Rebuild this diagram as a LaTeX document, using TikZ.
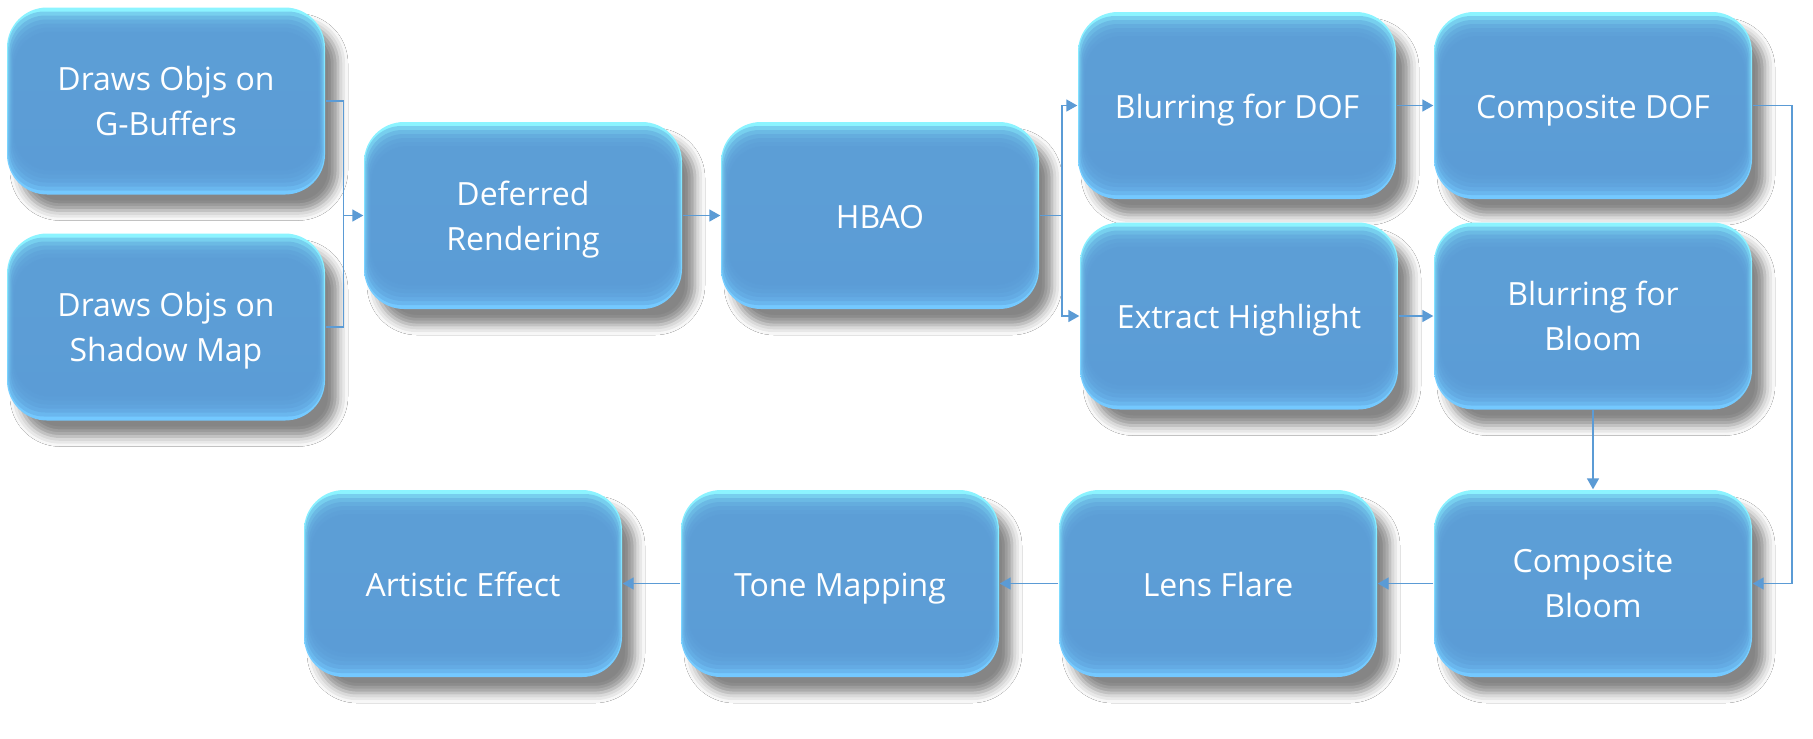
\documentclass[tikz,border=0pt]{standalone}
\usepackage{fontspec}
\setmainfont{Open Sans}
\usetikzlibrary{positioning, arrows.meta, calc, shadows.blur}

\definecolor{boxblue}{HTML}{5B9BD5}
\definecolor{glowtop}{HTML}{8CF4FF}
\definecolor{glowbot}{HTML}{74C8FF}
\definecolor{linkblue}{HTML}{5B9BD5}

\tikzset{
  stage/.style={rounded corners=4mm, minimum width=3.18cm, minimum height=1.87cm,
    top color=glowtop, bottom color=glowbot, text=white, align=center,
    font=\fontsize{9.1}{12.8}\selectfont,
    execute at begin node=\rule{0pt}{3.86mm}, execute at end node=\strut,
    blur shadow={shadow xshift=1.3mm, shadow yshift=-1.6mm,
                 shadow blur radius=1mm, shadow opacity=48},
    path picture={
      \foreach \k in {1,...,6}
        \fill[boxblue, fill opacity=0.4, rounded corners=3.6mm]
          ($(path picture bounding box.north west)+(\k*0.12mm,-\k*0.4mm)$)
          rectangle
          ($(path picture bounding box.south east)+(-\k*0.12mm,\k*0.4mm)$);
    }},
  twoline/.style={text depth=-0.5mm},
  link/.style={draw=linkblue, line width=0.45pt},
  arr/.style={link, -{Triangle[length=1.1mm, width=1.2mm]}}
}

\begin{document}
\begin{tikzpicture}

  %% ── Canvas ──────────────────────────────────────────────────
  \fill[white] (0,0) rectangle (18.13,-7.38);
  \useasboundingbox (0,0) rectangle (18.13,-7.38);

  %% ── Geometry passes ─────────────────────────────────────────
  \node[stage, twoline] (gbuf) at (1.66,-1.01) {Draws Objs on\\G-Buffers};
  \node[stage, twoline] (smap) at (1.66,-3.27) {Draws Objs on\\Shadow Map};

  %% ── Lighting ────────────────────────────────────────────────
  \node[stage, twoline] (deferred) at (5.23,-2.155) {Deferred\\Rendering};
  \node[stage] (hbao)     at (8.80,-2.155) {HBAO};

  %% ── Post effects, upper rows ────────────────────────────────
  \node[stage] (blurdof)   at (12.37,-1.055) {Blurring for DOF};
  \node[stage] (extract)   at (12.39,-3.16)  {Extract Highlight};
  \node[stage] (compdof)   at (15.93,-1.055) {Composite DOF};
  \node[stage, twoline] (blurbloom) at (15.93,-3.16) {Blurring for\\Bloom};

  %% ── Post effects, bottom row (right to left) ────────────────
  \node[stage, twoline] (compbloom) at (15.93,-5.835) {Composite\\Bloom};
  \node[stage] (lens)      at (12.18,-5.835) {Lens Flare};
  \node[stage] (tone)      at (8.40,-5.835)  {Tone Mapping};
  \node[stage] (artistic)  at (4.63,-5.835)  {Artistic Effect};

  %% ── Connectors ──────────────────────────────────────────────
  % merge into deferred
  \coordinate (jl) at ([xshift=-2mm]deferred.west);
  \draw[link] (gbuf.east) -| (jl);
  \draw[link] (smap.east) -| (jl);
  \draw[arr] (jl) -- (deferred.west);
  \draw[arr] (deferred.east) -- (hbao.west);

  % split after HBAO
  \coordinate (js) at ([xshift=2.2mm]hbao.east);
  \draw[link] (hbao.east) -- (js);
  \draw[arr] (js) |- (blurdof.west);
  \draw[arr] (js) |- (extract.west);

  \draw[arr] (blurdof.east) -- (compdof.west);
  \draw[arr] (extract.east) -- (blurbloom.west);

  % DOF result joins bloom
  \coordinate (jr) at ([xshift=3.9mm]compdof.east);
  \draw[arr] (compdof.east) -- (jr) |- (compbloom.east);
  \draw[arr] (blurbloom.south) -- (compbloom.north);

  % bottom chain
  \draw[arr] (compbloom.west) -- (lens.east);
  \draw[arr] (lens.west) -- (tone.east);
  \draw[arr] (tone.west) -- (artistic.east);

\end{tikzpicture}
\end{document}
